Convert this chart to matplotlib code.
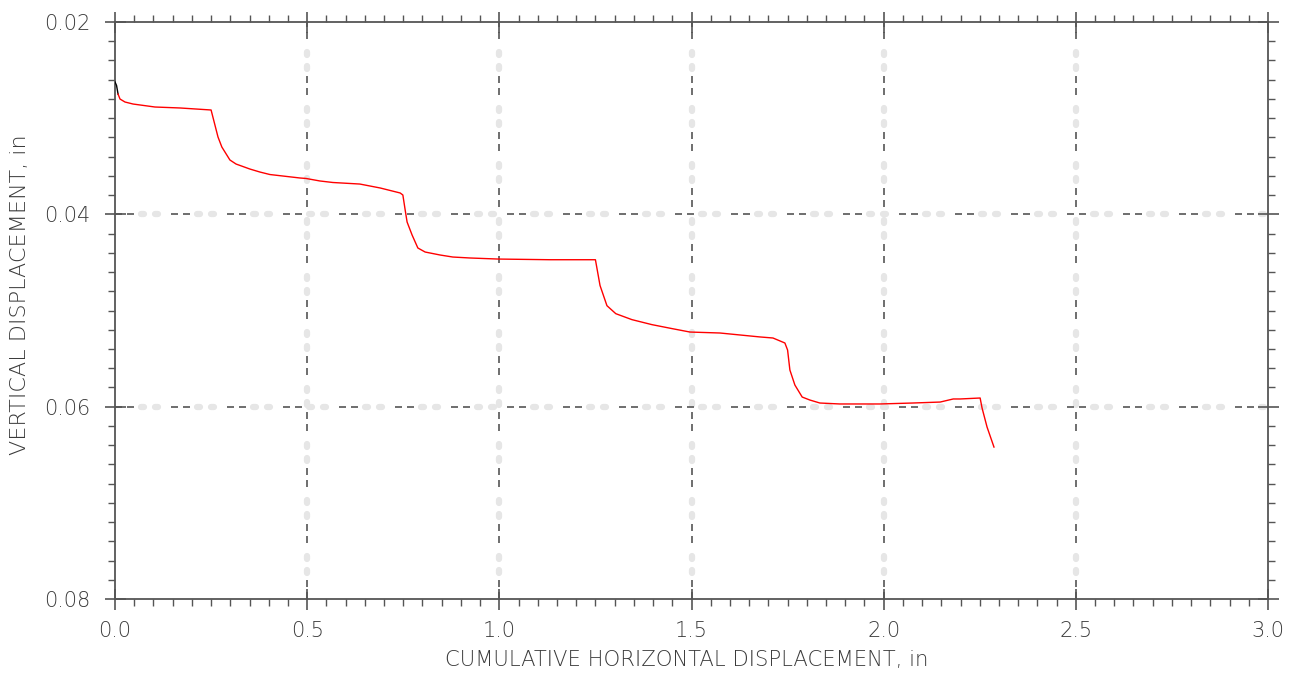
import matplotlib
matplotlib.use("Agg")
import matplotlib.pyplot as plt
from matplotlib.ticker import MultipleLocator, FormatStrFormatter

plt.rcParams['lines.scale_dashes'] = False
plt.rcParams['font.weight'] = 'light'

# ---- data ----
x_disp = [0.000, 0.004, 0.008, 0.013, 0.026, 0.047, 0.104, 0.169, 0.250,
          0.260, 0.268, 0.278, 0.299, 0.315, 0.351, 0.377, 0.403, 0.481, 0.497,
          0.533, 0.567, 0.637, 0.690, 0.742, 0.749,
          0.755, 0.760, 0.773, 0.788, 0.807, 0.846, 0.879, 0.924, 0.997, 1.132, 1.250,
          1.262, 1.280, 1.303, 1.345, 1.397, 1.449, 1.496, 1.574, 1.678, 1.712, 1.743,
          1.750, 1.756, 1.769, 1.788, 1.808, 1.834, 1.886, 1.990, 2.076, 2.147, 2.181,
          2.199, 2.251,
          2.256, 2.269, 2.287]
y_disp = [0.02624, 0.02660, 0.02750, 0.02801, 0.02832, 0.02853, 0.02884, 0.02894, 0.02915,
          0.03071, 0.03196, 0.03300, 0.03435, 0.03477, 0.03529, 0.03560, 0.03586, 0.03622, 0.03627,
          0.03653, 0.03669, 0.03685, 0.03726, 0.03778, 0.03799,
          0.03955, 0.04080, 0.04215, 0.04350, 0.04392, 0.04423, 0.04444, 0.04454, 0.04465, 0.04472, 0.04472,
          0.04740, 0.04950, 0.05033, 0.05095, 0.05147, 0.05188, 0.05224, 0.05234, 0.05275, 0.05286, 0.05338,
          0.05411, 0.05619, 0.05775, 0.05900, 0.05931, 0.05962, 0.05972, 0.05972, 0.05962, 0.05952, 0.05920,
          0.05920, 0.05910,
          0.06014, 0.06212, 0.06420]

x_ticks = [0.0, 0.5, 1.0, 1.5, 2.0, 2.5, 3.0]
y_ticks = [0.02, 0.04, 0.06, 0.08]
x_grid = [0.5, 1.0, 1.5, 2.0, 2.5]
y_grid = [0.04, 0.06]

W, H, DPI = 1292, 675, 100
fig = plt.figure(figsize=(W / DPI, H / DPI), dpi=DPI)
ax = fig.add_axes([115 / W, 1 - 599 / H, (1268 - 115) / W, (599 - 22) / H])

spine_col = '#555555'
text_col = '#3a3a3a'
px = 72.0 / DPI  # points per pixel

# grid: dark dashes alternated with faint light-grey dots
dark_pat = (0, (7 * px, 5 * px, 7 * px, 37 * px))
light_pat = (-26 * px, (3 * px, 11 * px, 3 * px, 39 * px))
for gx in x_grid:
    ax.axvline(gx, color='#e6e6e6', lw=4.5, linestyle=light_pat,
               dash_capstyle='round', zorder=1)
    ax.axvline(gx, color='#555555', lw=1.2, linestyle=dark_pat, zorder=1.5)
for gy in y_grid:
    ax.axhline(gy, color='#e6e6e6', lw=4.5, linestyle=light_pat,
               dash_capstyle='round', zorder=1)
    ax.axhline(gy, color='#555555', lw=1.2, linestyle=dark_pat, zorder=1.5)

# data line (first tiny segment black, rest red)
ax.plot(x_disp[:3], y_disp[:3], color='black', lw=1.0, zorder=3)
ax.plot(x_disp[2:], y_disp[2:], color='#ff0000', lw=1.0, zorder=3)

# ticks
ax.xaxis.set_major_locator(MultipleLocator(0.5))
ax.xaxis.set_minor_locator(MultipleLocator(0.05))
ax.yaxis.set_major_locator(MultipleLocator(0.02))
ax.yaxis.set_minor_locator(MultipleLocator(0.002))
ax.xaxis.set_major_formatter(FormatStrFormatter('%.1f'))
ax.yaxis.set_major_formatter(FormatStrFormatter('%.2f'))
ax.set_xticks(x_ticks)
ax.set_yticks(y_ticks)
ax.set_xlim(0, 3.0)
ax.set_ylim(0.08, 0.02)

ax.tick_params(which='major', direction='inout', length=21 * px, width=1.2,
               color=spine_col, top=True, right=True, labelsize=15,
               labelcolor=text_col, pad=8)
ax.tick_params(which='minor', direction='out', length=7 * px, width=1.0,
               color=spine_col, top=True, right=True)
ax.tick_params(axis='y', which='major', pad=10)
for lab in ax.get_xticklabels() + ax.get_yticklabels():
    lab.set_fontweight('light')

for s in ax.spines.values():
    s.set_color(spine_col)
    s.set_linewidth(1.3)

fig.text(687 / W, 1 - 660 / H, 'CUMULATIVE HORIZONTAL DISPLACEMENT, in',
         ha='center', va='center', fontsize=15.2, color=text_col, fontweight='light')
fig.text(20 / W, 1 - 295 / H, 'VERTICAL DISPLACEMENT, in', rotation=90,
         ha='center', va='center', fontsize=16, color=text_col, fontweight='light')

fig.savefig('out.png', dpi=DPI)
